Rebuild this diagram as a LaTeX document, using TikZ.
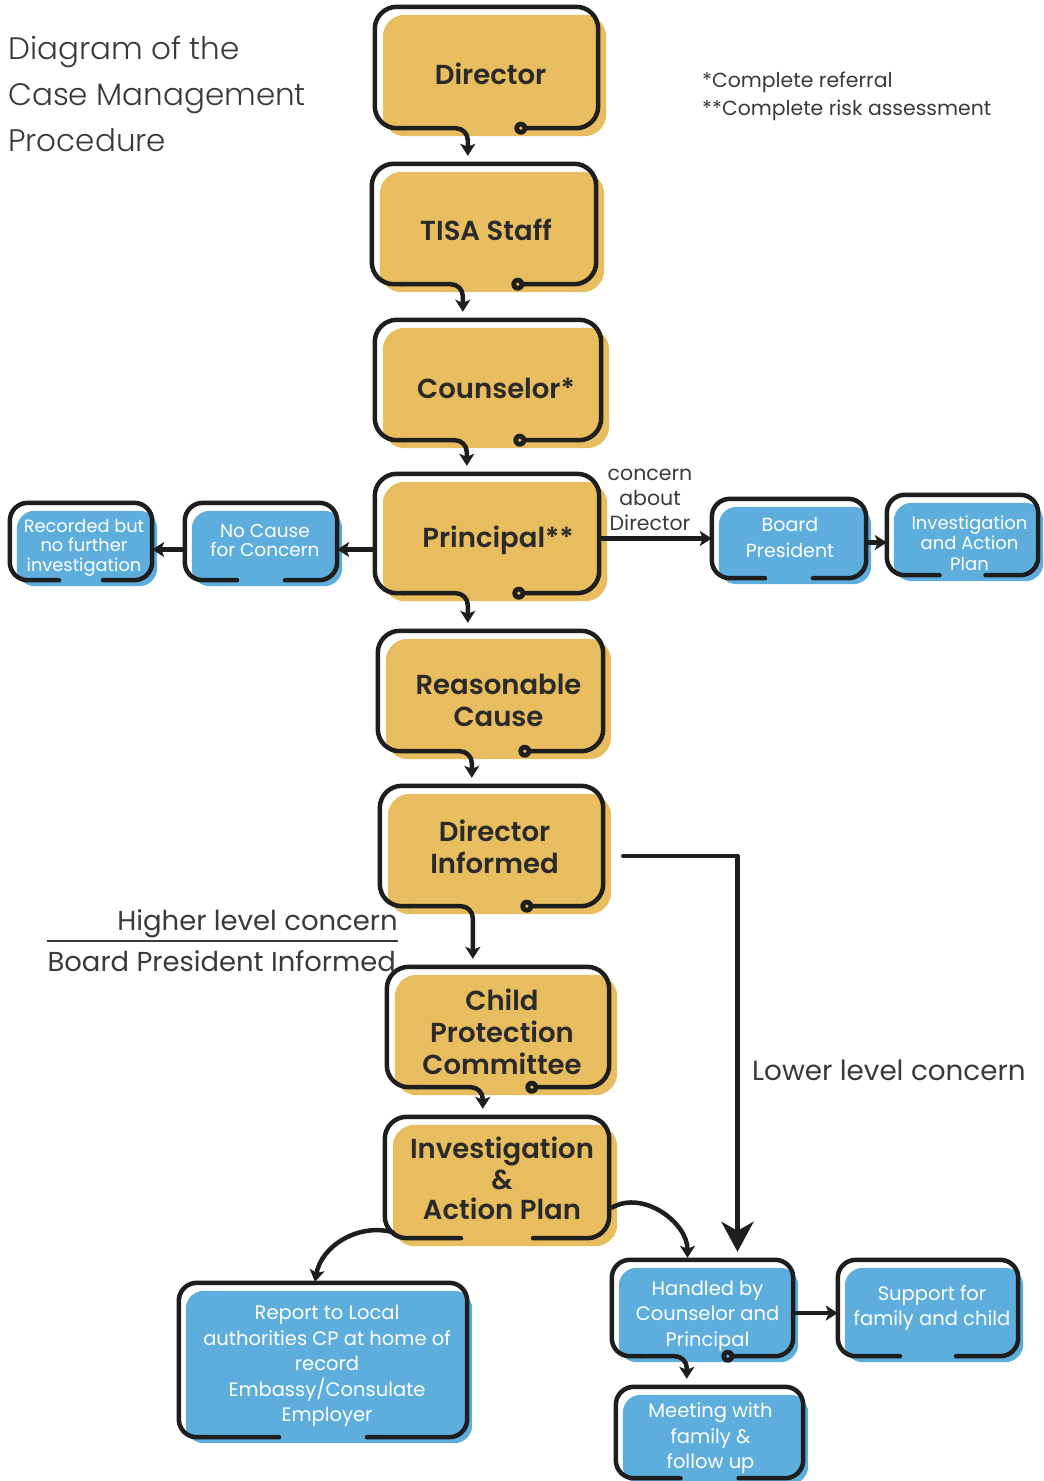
\documentclass[tikz,border=0pt]{standalone}
\usepackage{fontspec}
\setmainfont{Poppins}
\newfontfamily\pmed{Poppins SemiBold}
\newfontfamily\plight{Poppins Light}
\usetikzlibrary{arrows.meta,calc,backgrounds}
\definecolor{yfill}{HTML}{E8BD5F}
\definecolor{bfill}{HTML}{5EAEDD}
\definecolor{ink}{HTML}{1E1E1E}
\definecolor{txt}{HTML}{2A2A2A}
\definecolor{gtxt}{HTML}{3A3A3A}
\tikzset{
 frame/.style={rectangle, inner sep=0pt},
 ytext/.style={inner sep=0pt, align=center, font=\pmed\fontsize{27.5}{32}\selectfont, text=txt},
 btext/.style={inner sep=0pt, align=center, font=\fontsize{19.5}{25.5}\selectfont, text=white},
 stext/.style={inner sep=0pt, align=center, font=\fontsize{17.8}{19.5}\selectfont, text=white},
 outl/.style={line width=4.5pt, draw=ink, line cap=round, line join=round},
 arr/.style={outl, -{Stealth[length=12pt,width=15pt,inset=3pt]}},
 plain/.style={inner sep=0pt, text=gtxt},
}
\newcommand\yfillbox[1]{\fill[yfill, rounded corners=22pt] ($(#1.south west)+(8,-8)$) rectangle ($(#1.north east)+(8,-8)$);}
\newcommand\bfillbox[1]{\fill[bfill, rounded corners=18pt] ($(#1.north west)+(7,-8)$) rectangle ($(#1.south east)+(5,-6)$);}
\newcommand\tnode[4]{\node[#2] (#1-t) at ($(#1)+(#3)$) {#4};}
\newcommand\tailbox[6]{%
 \coordinate (#1-d) at ($(#1.south west)+(#4,0)$);
 \coordinate (#1-a) at ($(#1.south west)+(#3,0)$);
 \draw[outl, rounded corners=#5] (#1-d) -- (#1.south east) -- (#1.north east) -- (#1.north west) -- (#1.south west) -- ($(#1.south west)+(30,0)$);
 \draw[arr, rounded corners=12pt] ($(#1.south west)+(30,0)$) -- (#1-a) -- ($(#1-a |- #2.north)+(0,8)$);
 \fill[ink] (#1-d) circle (6.5);
 \fill[#6] (#1-d) circle (1.8);
}
\newcommand\gapbox[3]{%
 \draw[outl, rounded corners=#3] ($(#1.south)+(#2,0)$) -- (#1.south east) -- (#1.north east) -- (#1.north west) -- (#1.south west) -- ($(#1.south)+(-#2,0)$);}
\begin{document}
\begin{tikzpicture}[x=1pt,y=1pt]
\useasboundingbox (0,0) rectangle (1044,-1481);

% title and notes
\node[plain, anchor=north west, align=left, font=\plight\fontsize{31}{46}\selectfont] (title) at (8,-36) {Diagram of the\\Case Management\\Procedure};
\node[plain, anchor=base west, font=\fontsize{20.4}{22}\selectfont] (note1) at (702,-87) {*Complete referral};
\node[plain, anchor=base west, font=\fontsize{20.4}{22}\selectfont] (note2) at (702,-115) {**Complete risk assessment};

% yellow boxes
\node[frame, minimum width=223, minimum height=121] (dir) at (486.5,-67.5) {};
\node[frame, minimum width=224, minimum height=120] (tisa) at (484,-224) {};
\node[frame, minimum width=226, minimum height=120] (couns) at (488,-380) {};
\node[frame, minimum width=224, minimum height=119] (prin) at (487,-533.5) {};
\node[frame, minimum width=225, minimum height=120] (reas) at (490.5,-691) {};
\node[frame, minimum width=223, minimum height=120] (dirinf) at (491.5,-846) {};
\node[frame, minimum width=222, minimum height=120] (cpc) at (498,-1027) {};
\node[frame, minimum width=224, minimum height=121] (inv) at (497,-1177.5) {};
\tnode{dir}{ytext}{4,-6}{Director}
\tnode{tisa}{ytext}{2,-6}{TISA Staff}
\tnode{couns}{ytext}{8,-8}{Counselor*}
\tnode{prin}{ytext}{11,-7}{Principal**}
\tnode{reas}{ytext}{8,-9}{Reasonable\\Cause}
\tnode{dirinf}{ytext}{3,-1}{Director\\Informed}
\tnode{cpc}{ytext}{4,-5}{Child\\Protection\\Committee}
\tnode{inv}{ytext, font=\pmed\fontsize{27.5}{30.5}\selectfont}{5,-1}{Investigation\\\&\\Action Plan}

% blue boxes
\node[frame, minimum width=142, minimum height=77] (rec) at (81,-541.5) {};
\node[frame, minimum width=152, minimum height=77] (nocause) at (261,-541.5) {};
\node[frame, minimum width=154, minimum height=79] (board) at (789,-538.5) {};
\node[frame, minimum width=151, minimum height=80] (invap) at (962.5,-535) {};
\node[frame, minimum width=288, minimum height=154] (report) at (323,-1360) {};
\node[frame, minimum width=181, minimum height=96] (handled) at (702.5,-1308) {};
\node[frame, minimum width=180, minimum height=96] (support) at (928,-1308) {};
\node[frame, minimum width=187, minimum height=91] (meeting) at (709.5,-1432.5) {};
\tnode{rec}{stext}{3,-6}{Recorded but\\no further\\investigation}
\tnode{nocause}{stext, font=\fontsize{18.5}{19.5}\selectfont}{4,1}{No Cause\\for Concern}
\tnode{board}{btext, font=\fontsize{19}{26}\selectfont}{1,1}{Board\\President}
\tnode{invap}{stext, font=\fontsize{18}{20.5}\selectfont}{7,-8}{Investigation\\and Action\\Plan}
\tnode{report}{btext}{4,-6}{Report to Local\\authorities CP at home of\\record\\Embassy/Consulate\\Employer}
\tnode{handled}{btext}{5,-8}{Handled by\\Counselor and\\Principal}
\tnode{support}{btext}{4,0}{Support for\\family and child}
\tnode{meeting}{btext}{1,-6}{Meeting with\\family \&\\follow up}

% labels
\node[plain, align=center, font=\fontsize{20.5}{25}\selectfont] (cad) at (650,-500) {concern\\about\\Director};
\node[plain, anchor=base east, font=\fontsize{27.5}{30}\selectfont] (higher) at (398,-930) {Higher level concern};
\node[plain, anchor=base east, font=\fontsize{27.4}{30}\selectfont] (bpi) at (396,-971) {Board President Informed};
\node[plain, anchor=base west, font=\fontsize{27.8}{30}\selectfont] (lower) at (752,-1080) {Lower level concern};
\draw[line width=1.3pt, draw=gtxt] (47,-941) -- (398,-941);

% fills
\begin{scope}[on background layer]
\fill[white] (0,0) rectangle (1044,-1481);
\foreach \n in {dir,tisa,couns,prin,reas,dirinf,cpc,inv} {\yfillbox{\n}}
\foreach \n in {rec,nocause,board,invap,report,handled,support,meeting} {\bfillbox{\n}}
\end{scope}

% outlines with tails
\tailbox{dir}{tisa}{93}{146}{22pt}{yfill}
\tailbox{tisa}{couns}{91}{146}{22pt}{yfill}
\tailbox{couns}{prin}{92}{145}{22pt}{yfill}
\tailbox{prin}{reas}{93}{144}{22pt}{yfill}
\tailbox{reas}{dirinf}{94}{147}{22pt}{yfill}
\tailbox{dirinf}{cpc}{93}{147}{22pt}{yfill}
\tailbox{cpc}{inv}{96}{145}{22pt}{yfill}
\tailbox{handled}{meeting}{75}{116}{18pt}{bfill}
\gapbox{inv}{36}{22pt}
\gapbox{rec}{22}{18pt}
\gapbox{nocause}{24}{18pt}
\gapbox{board}{24}{18pt}
\gapbox{invap}{23}{18pt}
\gapbox{report}{44}{18pt}
\gapbox{support}{28}{18pt}
\gapbox{meeting}{29}{18pt}

% connectors
\draw[arr] ($(prin.west |- nocause.east)+(0,-8)$) -- ($(nocause.east)+(0,-8)$);
\draw[arr] ($(nocause.west)+(0,-8)$) -- ($(rec.east)+(0,-8)$);
\draw[arr] (prin.east |- board.west) -- (board.west);
\draw[arr] ($(board.east)+(0,-4)$) -- ($(board.east -| invap.west)+(0,-4)$);
\draw[arr] ($(handled.east)+(2,-5)$) -- ($(support.west)+(0,-5)$);
\draw[outl, -{Stealth[length=30pt,width=32pt,inset=9pt]}] ($(dirinf.east)+(20,-10)$) -| ($(handled.north)+(35,8)$);
\draw[arr] ($(inv.south west)+(8,6)$) to[out=165,in=80] ($(report.north)+(-8,1)$);
\draw[arr] ($(inv.east)+(3,-30)$) to[out=30,in=90] ($(handled.north)+(-15,2)$);
\end{tikzpicture}
\end{document}
